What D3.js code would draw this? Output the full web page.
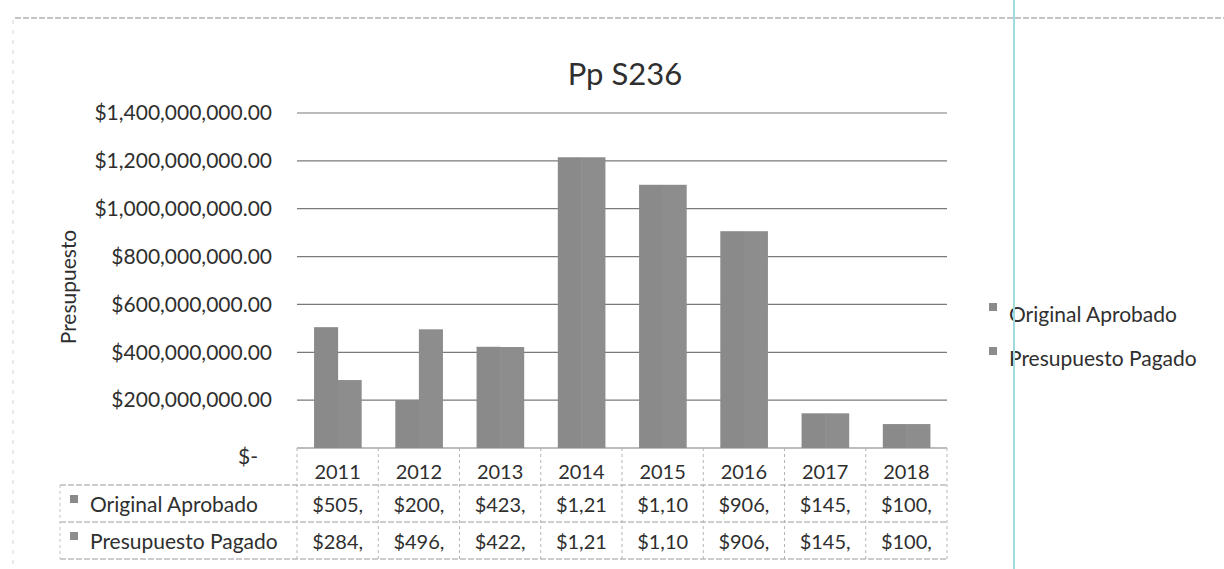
<!DOCTYPE html>
<html>
<head>
<meta charset="utf-8">
<script src="https://cdn.jsdelivr.net/npm/d3@7"></script>
<style>
    body { margin: 0; background: #fff; }
    text { font-family: Lato, "Open Sans", sans-serif; fill: #2f2f2f; }
</style>
</head>
<body>
<svg id="chart" width="1224" height="569"></svg>
<script>
var years = ["2011", "2012", "2013", "2014", "2015", "2016", "2017", "2018"];
var originalAprobado = [505e6, 200e6, 423e6, 1215e6, 1100e6, 906e6, 145e6, 100e6];
var presupuestoPagado = [284e6, 496e6, 422e6, 1215e6, 1100e6, 906e6, 145e6, 100e6];
var originalLabels = ["$505,", "$200,", "$423,", "$1,21", "$1,10", "$906,", "$145,", "$100,"];
var pagadoLabels = ["$284,", "$496,", "$422,", "$1,21", "$1,10", "$906,", "$145,", "$100,"];
var seriesNames = ["Original Aprobado", "Presupuesto Pagado"];
var yTicks = [0, 200e6, 400e6, 600e6, 800e6, 1000e6, 1200e6, 1400e6];

var style = {
    left: 297,
    right: 947,
    top: 113,
    bottom: 448,
    tableLeft: 60,
    rowLines: [485, 522, 559],
    colors: ["#8a8a8a", "#8d8d8d"],
    grid: "#7a7a7a",
    fontSize: "21px"
};

var svg = d3.select("#chart");

var x = d3.scaleBand().domain(years).range([style.left, style.right]);
var x1 = d3.scaleBand().domain(seriesNames)
    .range([x.bandwidth() * 0.21, x.bandwidth() * 0.79]);
var y = d3.scaleLinear().domain([0, 1400e6]).range([style.bottom, style.top]);

// frame left by the scan
svg.append("line")
    .attr("x1", 15).attr("x2", 1224).attr("y1", 18).attr("y2", 18)
    .attr("stroke", "#8a8a8a").attr("stroke-dasharray", "6,2");
svg.append("line")
    .attr("x1", 13).attr("x2", 13).attr("y1", 20).attr("y2", 569)
    .attr("stroke", "#d4d4d4").attr("stroke-dasharray", "4,6");

// title
svg.append("text")
    .attr("x", 625).attr("y", 85)
    .attr("text-anchor", "middle")
    .style("font-size", "31px")
    .text("Pp S236");

// gridlines
svg.append("g").selectAll("line")
    .data(yTicks)
    .enter()
    .append("line")
    .attr("x1", style.left).attr("x2", style.right)
    .attr("y1", function(d) { return y(d); })
    .attr("y2", function(d) { return y(d); })
    .attr("stroke", style.grid)
    .attr("stroke-width", 1.2);

// y axis labels
var yAxis = d3.axisLeft(y)
    .tickValues(yTicks)
    .tickSize(0)
    .tickPadding(25)
    .tickFormat(function(d) { return d === 0 ? "$-" : d3.format("$,.2f")(d); });

var yAxisG = svg.append("g")
    .attr("transform", "translate(" + style.left + ",0)")
    .call(yAxis);
yAxisG.select(".domain").remove();
yAxisG.selectAll("text")
    .style("font-size", style.fontSize)
    .attr("fill", "#2f2f2f");
yAxisG.selectAll(".tick")
    .filter(function(d) { return d === 0; })
    .select("text")
    .attr("x", -39)
    .attr("dy", "0.75em");

svg.append("text")
    .attr("transform", "translate(76,287) rotate(-90)")
    .attr("text-anchor", "middle")
    .style("font-size", style.fontSize)
    .text("Presupuesto");

// bars
var series = [originalAprobado, presupuestoPagado];
series.forEach(function(values, s) {
    svg.append("g").selectAll("rect")
        .data(values)
        .enter()
        .append("rect")
        .attr("x", function(d, i) { return x(years[i]) + x1(seriesNames[s]); })
        .attr("y", function(d) { return y(d); })
        .attr("width", x1.bandwidth() + 0.5)
        .attr("height", function(d) { return y(0) - y(d); })
        .attr("fill", style.colors[s]);
});

// data table
var table = svg.append("g");

style.rowLines.forEach(function(ly) {
    table.append("line")
        .attr("x1", style.tableLeft).attr("x2", style.right)
        .attr("y1", ly).attr("y2", ly)
        .attr("stroke", "#9a9a9a")
        .attr("stroke-dasharray", "6,2");
});

var colEdges = years.map(function(d) { return x(d); }).concat([style.right]);
table.selectAll(".colLine")
    .data(colEdges)
    .enter()
    .append("line")
    .attr("x1", function(d) { return d; })
    .attr("x2", function(d) { return d; })
    .attr("y1", style.bottom)
    .attr("y2", style.rowLines[2])
    .attr("stroke", "#b5b5b5")
    .attr("stroke-dasharray", "3,3");

table.append("line")
    .attr("x1", style.tableLeft).attr("x2", style.tableLeft)
    .attr("y1", style.rowLines[0]).attr("y2", style.rowLines[2])
    .attr("stroke", "#c4c4c4")
    .attr("stroke-dasharray", "3,3");

table.selectAll(".yearText")
    .data(years)
    .enter()
    .append("text")
    .attr("x", function(d) { return x(d) + x.bandwidth() / 2; })
    .attr("y", 479)
    .attr("text-anchor", "middle")
    .style("font-size", "20px")
    .text(function(d) { return d; });

var rowLabels = [originalLabels, pagadoLabels];
rowLabels.forEach(function(labels, r) {
    var baseline = 512 + r * 37;
    table.append("rect")
        .attr("x", 70).attr("y", baseline - 17)
        .attr("width", 8).attr("height", 8)
        .attr("fill", style.colors[r]);
    table.append("text")
        .attr("x", 90).attr("y", baseline)
        .style("font-size", style.fontSize)
        .text(seriesNames[r]);
    table.append("g").selectAll("text")
        .data(labels)
        .enter()
        .append("text")
        .attr("x", function(d, i) { return x(years[i]) + x.bandwidth() / 2; })
        .attr("y", baseline)
        .attr("text-anchor", "middle")
        .style("font-size", "20px")
        .text(function(d) { return d; });
});

// legend
var legend = svg.append("g").selectAll("g")
    .data(seriesNames)
    .enter()
    .append("g")
    .attr("transform", function(d, i) { return "translate(989," + (322 + i * 44) + ")"; });
legend.append("rect")
    .attr("y", -19).attr("width", 8).attr("height", 8)
    .attr("fill", function(d, i) { return style.colors[i]; });
legend.append("text")
    .attr("x", 20)
    .style("font-size", style.fontSize)
    .text(function(d) { return d; });

// page edge from the scan
svg.append("line")
    .attr("x1", 1014).attr("x2", 1014).attr("y1", 0).attr("y2", 569)
    .attr("stroke", "#9fdcdf").attr("stroke-width", 2);
</script>
</body>
</html>
